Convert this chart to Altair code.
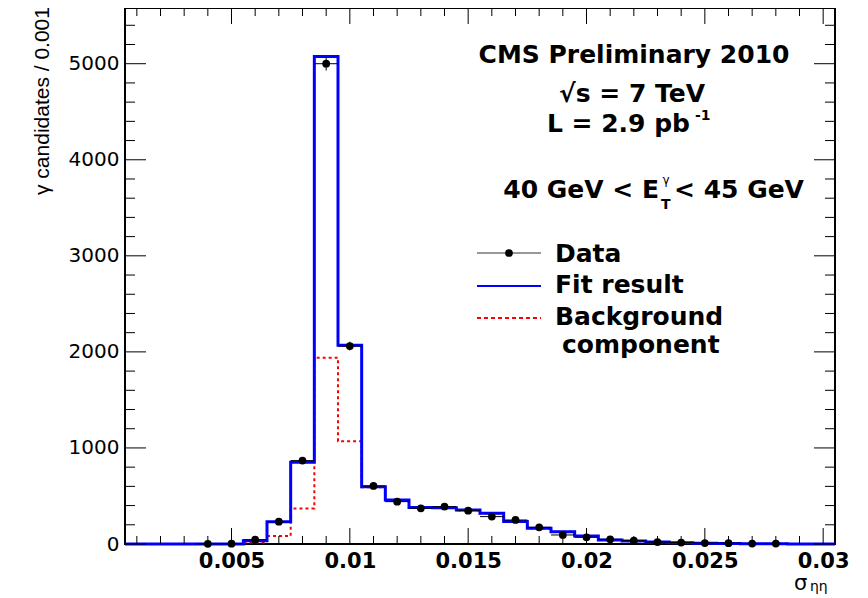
import altair as alt
import pandas as pd
import numpy as np

# ---------------- data ----------------
bin_centers = [round(0.001 * k, 3) for k in range(1, 31)]
fit_vals = [0, 0, 0, 0, 0, 35, 232, 851, 5075, 2068, 597, 458, 380, 378, 354,
            319, 233, 163, 128, 83, 42, 31, 20, 14, 8, 5, 3, 2, 1, 0]
bkg_vals = [0, 0, 0, 0, 0, 15, 83, 370, 1940, 1070, 590, 455, 378, 376, 352,
            317, 231, 162, 127, 82, 41, 30, 19, 13, 8, 5, 3, 2, 1, 0]
data_x = [0.004, 0.005, 0.006, 0.007, 0.008, 0.009, 0.010, 0.011, 0.012, 0.013,
          0.014, 0.015, 0.016, 0.017, 0.018, 0.019, 0.020, 0.021, 0.022, 0.023,
          0.024, 0.025, 0.026, 0.027, 0.028]
data_y = [2, 3, 45, 232, 868, 5000, 2060, 604, 441, 372,
          389, 347, 285, 250, 174, 94, 70, 49, 35, 20,
          15, 10, 9, 5, 5]
x_major = [0.005, 0.01, 0.015, 0.02, 0.025, 0.03]
y_major = [0, 1000, 2000, 3000, 4000, 5000]
half_bin = 0.0005

W, H = 710, 536
xs = alt.Scale(domain=[0.0005, 0.0305], nice=False, zero=False)
ys = alt.Scale(domain=[0, 5580], nice=False, zero=False)

# step tables
edges = [round(c - half_bin, 4) for c in bin_centers] + [round(bin_centers[-1] + half_bin, 4)]
fit_df = pd.DataFrame({"x": edges, "y": fit_vals + [fit_vals[-1]]})
bkg_df = pd.DataFrame({"x": edges, "y": bkg_vals + [bkg_vals[-1]]})
dat = pd.DataFrame({"x": data_x, "y": data_y})
dat["lo"] = dat["y"] - np.sqrt(dat["y"])
dat["hi"] = dat["y"] + np.sqrt(dat["y"])
dat["xl"] = dat["x"] - half_bin
dat["xr"] = dat["x"] + half_bin

x_minor = [round(0.001 * k, 3) for k in range(1, 31) if round(0.001 * k, 3) not in x_major]
y_minor = [200 * k for k in range(0, 28) if 200 * k not in y_major]

# ---------------- axes (same definition on every layer so they merge) ----------------
x_axis = alt.Axis(values=x_major, format="~g", labelFont="DejaVu Sans", labelFontWeight="bold",
                  labelFontSize=21, labelColor="black", ticks=False, tickSize=0, domain=False,
                  grid=False, labelPadding=6, title=None, labelFlush=False, labelOverlap=False)
y_axis = alt.Axis(values=y_major, format="d", labelFont="DejaVu Sans", labelFontSize=20,
                  labelColor="black", ticks=False, tickSize=0, domain=False, grid=False,
                  labelPadding=6, title=None, labelOverlap=False)


def X(field):
    return alt.X(field, scale=xs, axis=x_axis)


def Y(field):
    return alt.Y(field, scale=ys, axis=y_axis)


bkg_line = alt.Chart(bkg_df).mark_line(interpolate="step-after", color="#ff0000",
                                        strokeWidth=2, strokeDash=[3, 3]).encode(
    x=X("x:Q"), y=Y("y:Q"))
fit_line = alt.Chart(fit_df).mark_line(interpolate="step-after", color="#0000ff",
                                        strokeWidth=3).encode(
    x=X("x:Q"), y=Y("y:Q"))
err_v = alt.Chart(dat).mark_rule(color="black", strokeWidth=1).encode(
    x=X("x:Q"), y=Y("lo:Q"), y2="hi:Q")
err_h = alt.Chart(dat).mark_rule(color="black", strokeWidth=1).encode(
    x=X("xl:Q"), x2="xr:Q", y=Y("y:Q"))
pts = alt.Chart(dat).mark_point(filled=True, shape="circle", size=60, color="black",
                                opacity=1).encode(x=X("x:Q"), y=Y("y:Q"))


# tick marks drawn inward (ROOT style)
def xticks(vals, length):
    df = pd.DataFrame({"v": vals})
    bottom = alt.Chart(df).mark_rule(color="black", strokeWidth=1).encode(
        x=X("v:Q"), y=alt.value(H), y2=alt.value(H - length))
    top = alt.Chart(df).mark_rule(color="black", strokeWidth=1).encode(
        x=X("v:Q"), y=alt.value(0), y2=alt.value(length))
    return [bottom, top]


def yticks(vals, length):
    df = pd.DataFrame({"v": vals})
    left = alt.Chart(df).mark_rule(color="black", strokeWidth=1).encode(
        y=Y("v:Q"), x=alt.value(0), x2=alt.value(length))
    right = alt.Chart(df).mark_rule(color="black", strokeWidth=1).encode(
        y=Y("v:Q"), x=alt.value(W), x2=alt.value(W - length))
    return [left, right]


tick_layers = xticks(x_major, 16) + xticks(x_minor, 8) + yticks(y_major, 21) + yticks(y_minor, 10)

one = pd.DataFrame({"a": [0]})


def txt(s, x, y, size, align="left", weight="bold", font="DejaVu Sans",
        baseline="alphabetic", angle=0, color="black"):
    return alt.Chart(one).mark_text(text=s, fontSize=size, align=align, fontWeight=weight,
                                    font=font, baseline=baseline, angle=angle,
                                    color=color).encode(x=alt.value(x), y=alt.value(y))


texts = [
    txt("CMS Preliminary 2010", 509, 55, 25, align="center"),
    txt("\u221as = 7 TeV", 507, 94, 25, align="center"),
    txt("L = 2.9 pb", 565, 124, 25, align="right"),
    txt("-1", 570, 112, 14),
    txt("40 GeV < E", 534, 190, 25, align="right"),
    txt("T", 536, 201, 14),
    txt("\u03b3", 541, 176, 12, align="center", weight="normal"),
    txt("< 45 GeV", 549, 190, 25),
    txt("Data", 430, 254, 25),
    txt("Fit result", 430, 285, 25),
    txt("Background", 430, 317, 25),
    txt("component", 437, 345, 25),
    txt("\u03c3", 669, 582, 21, weight="normal"),
    txt("\u03b7\u03b7", 685, 583, 14, weight="normal"),
    txt("\u03b3 candidates / 0.001", -82, 93, 21, align="center", weight="normal",
        font="Liberation Sans", baseline="middle", angle=270),
]

legend = [
    alt.Chart(one).mark_rule(color="#777777", strokeWidth=1.5).encode(
        x=alt.value(352), x2=alt.value(416), y=alt.value(245)),
    alt.Chart(one).mark_point(filled=True, shape="circle", size=60, color="black",
                              opacity=1).encode(x=alt.value(384), y=alt.value(245)),
    alt.Chart(one).mark_rule(color="#0000ff", strokeWidth=2).encode(
        x=alt.value(352), x2=alt.value(416), y=alt.value(278)),
    alt.Chart(one).mark_rule(color="#ff0000", strokeWidth=2, strokeDash=[4, 3]).encode(
        x=alt.value(352), x2=alt.value(416), y=alt.value(310)),
]

chart = alt.layer(
    bkg_line, fit_line, err_h, err_v, pts, *tick_layers, *legend, *texts
).properties(
    width=W, height=H,
    autosize=alt.AutoSizeParams(type="none"),
    padding={"left": 117, "top": 0, "right": 24, "bottom": 50},
    background="white",
).configure_view(stroke="black", strokeWidth=2)

chart.save("out.html", embed_options={"renderer": "svg", "actions": False})
